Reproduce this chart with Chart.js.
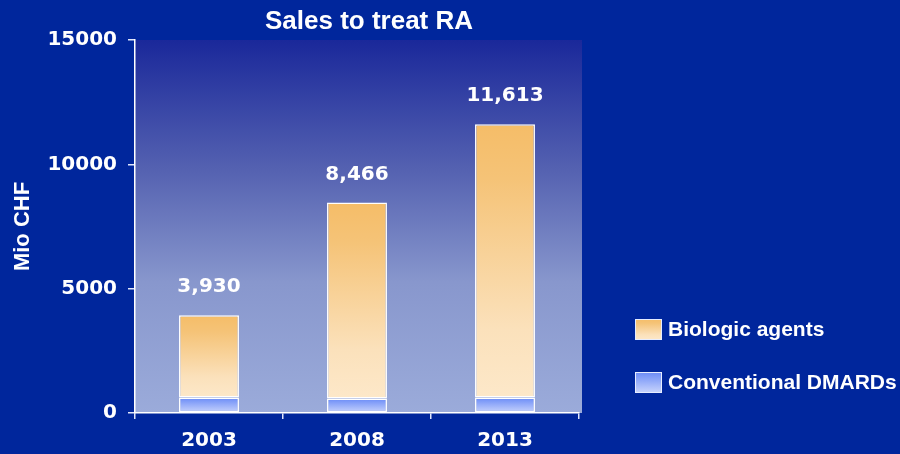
<!DOCTYPE html>
<html>
<head>
<meta charset="utf-8">
<title>Sales to treat RA</title>
<script src="https://cdn.jsdelivr.net/npm/chart.js@4.4.1/dist/chart.umd.min.js"></script>
<style>
  html, body { margin: 0; padding: 0; background: #00269c; }
  #wrap { width: 900px; height: 454px; }
</style>
</head>
<body>
<div id="wrap"><canvas id="myChart" width="900" height="454"></canvas></div>
<script>
// sales in Mio CHF per year
var years = ['2003', '2008', '2013'];
var conventional = [620, 580, 620];
var biologic = [3310, 7886, 10993];
var yTicks = [0, 5000, 10000, 15000];

var numFont = { family: 'DejaVu Sans', weight: 'bold', size: 20 };
var textFont = 'Liberation Sans, Arial, sans-serif';

// vertical gradient between two pixel rows
function vGrad(ctx, top, bottom, stops) {
  var g = ctx.createLinearGradient(0, top, 0, bottom);
  stops.forEach(function (s) { g.addColorStop(s[0], s[1]); });
  return g;
}
var orangeStops = [[0, '#f5bd68'], [0.2, '#f5c377'], [0.75, '#fbe1bb'], [1, '#fde8c9']];
var blueStops = [[0, '#6a8bf7'], [1, '#cad5fc']];

function barFill(stops, lowSeries) {
  return function (c) {
    var chart = c.chart;
    if (!chart.chartArea || c.dataIndex === undefined) return stops[0][1];
    var y = chart.scales.y;
    var base = 0;
    if (lowSeries) base = lowSeries[c.dataIndex];
    var val = c.raw;
    return vGrad(chart.ctx, y.getPixelForValue(base + val), y.getPixelForValue(base), stops);
  };
}

// plot area shading + title + totals + legend
var decor = {
  id: 'decor',
  beforeDraw: function (chart) {
    var a = chart.chartArea, ctx = chart.ctx;
    ctx.save();
    ctx.fillStyle = vGrad(ctx, a.top, a.bottom,
      [[0, '#1a289a'], [0.35, '#5562b1'], [0.65, '#8897cd'], [1, '#9babda']]);
    ctx.fillRect(a.left, a.top, a.right - a.left + 3, a.bottom - a.top);
    ctx.restore();
  },
  afterDraw: function (chart) {
    var ctx = chart.ctx, x = chart.scales.x, y = chart.scales.y;
    ctx.save();
    ctx.fillStyle = '#ffffff';

    ctx.font = 'bold 26px ' + textFont;
    ctx.textAlign = 'center';
    ctx.textBaseline = 'alphabetic';
    ctx.fillText('Sales to treat RA', 369, 29);

    ctx.font = 'bold 20px DejaVu Sans';
    ctx.textBaseline = 'middle';
    years.forEach(function (yr, i) {
      var total = conventional[i] + biologic[i];
      ctx.fillText(total.toLocaleString('en-US'), x.getPixelForValue(i), y.getPixelForValue(total) - 28);
    });

    var items = [
      { label: chart.data.datasets[1].label, stops: orangeStops, top: 319 },
      { label: chart.data.datasets[0].label, stops: blueStops, top: 372 }
    ];
    items.forEach(function (it) {
      ctx.fillStyle = vGrad(ctx, it.top, it.top + 21, it.stops);
      ctx.fillRect(635, it.top, 27, 21);
      ctx.strokeStyle = '#e6ecff';
      ctx.lineWidth = 1;
      ctx.strokeRect(635.5, it.top + 0.5, 26, 20);
      ctx.fillStyle = '#ffffff';
      ctx.font = 'bold 21px ' + textFont;
      ctx.textAlign = 'left';
      ctx.fillText(it.label, 668, it.top + 11);
    });
    ctx.restore();
  }
};

var myChart = new Chart(document.getElementById('myChart'), {
  type: 'bar',
  data: {
    labels: years,
    datasets: [{
      label: 'Conventional DMARDs',
      data: conventional,
      backgroundColor: barFill(blueStops, null),
      borderColor: '#ffffff',
      borderWidth: 1.5,
      borderSkipped: false
    }, {
      label: 'Biologic agents',
      data: biologic,
      backgroundColor: barFill(orangeStops, conventional),
      borderColor: '#ffffff',
      borderWidth: 1.5,
      borderSkipped: false
    }]
  },
  options: {
    responsive: false,
    animation: false,
    layout: { padding: { top: 40, right: 321, left: 0, bottom: 0 } },
    datasets: { bar: { categoryPercentage: 1, barPercentage: 0.405 } },
    plugins: {
      legend: { display: false },
      tooltip: { enabled: false }
    },
    scales: {
      x: {
        stacked: true,
        grid: { drawOnChartArea: false, tickLength: 6, color: '#dfe5fb', lineWidth: 1.5 },
        border: { color: '#ffffff', width: 1.5 },
        ticks: { color: '#ffffff', font: numFont, padding: 10 },
        afterFit: function (s) { s.height = 41; }
      },
      y: {
        stacked: true,
        min: 0,
        max: 15000,
        afterBuildTicks: function (s) { s.ticks = yTicks.map(function (v) { return { value: v }; }); },
        grid: { drawOnChartArea: false, tickLength: 7, color: '#dfe5fb', lineWidth: 1.5 },
        border: { color: '#ffffff', width: 1.5 },
        ticks: {
          color: '#ffffff', font: numFont, padding: 11,
          callback: function (v) { return String(v); }
        },
        title: {
          display: true, text: 'Mio CHF', color: '#ffffff',
          font: { family: textFont, weight: 'bold', size: 22 },
          padding: { top: 10, bottom: 0 }
        },
        afterFit: function (s) { s.width = 135; }
      }
    }
  },
  plugins: [decor]
});
</script>
</body>
</html>
